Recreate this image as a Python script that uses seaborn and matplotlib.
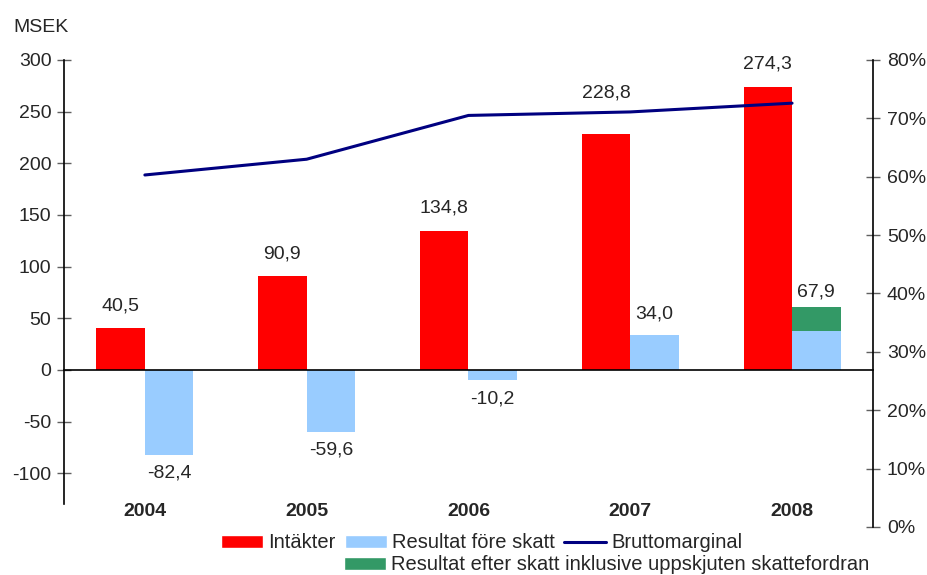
import numpy as np
import pandas as pd
import seaborn as sns
import matplotlib.pyplot as plt
from matplotlib.patches import Patch
from matplotlib.lines import Line2D

years = ["2004", "2005", "2006", "2007", "2008"]
intakter = [40.5, 90.9, 134.8, 228.8, 274.3]
resultat_fore = [-82.4, -59.6, -10.2, 34.0, 38.0]
# green part stacked on top of the light blue bar in 2008 (top of stack)
resultat_efter_total = [np.nan, np.nan, np.nan, np.nan, 61.0]
bruttomarginal = [0.603, 0.630, 0.705, 0.711, 0.726]

intakter_labels = ["40,5", "90,9", "134,8", "228,8", "274,3"]
resultat_labels = ["-82,4", "-59,6", "-10,2", "34,0", ""]
efter_labels = ["", "", "", "", "67,9"]

RED = "#FF0000"
BLUE = "#99CCFF"
GREEN = "#339966"
NAVY = "#000080"
FS = 14

sns.set_style("white")
plt.rcParams["font.family"] = ["Liberation Sans", "DejaVu Sans"]
plt.rcParams["font.size"] = FS
plt.rcParams["axes.unicode_minus"] = False

fig = plt.figure(figsize=(9.27, 5.75), dpi=100)
ax = fig.add_axes([0.069, 0.0835, 0.8727, 0.8122])

series = ["Intäkter", "Resultat före skatt"]
df = pd.DataFrame({
    "year": years * 2,
    "serie": [series[0]] * 5 + [series[1]] * 5,
    "value": intakter + resultat_fore,
})
df_green = pd.DataFrame({
    "year": years * 2,
    "serie": [series[0]] * 5 + [series[1]] * 5,
    "value": [0.0] * 5 + resultat_efter_total,
})

# green stack drawn first, light blue bars drawn over it
sns.barplot(data=df_green, x="year", y="value", hue="serie", hue_order=series,
            order=years, palette=[GREEN, GREEN], width=0.6, saturation=1,
            errorbar=None, legend=False, linewidth=0, ax=ax)
n_green = len(ax.containers)
sns.barplot(data=df, x="year", y="value", hue="serie", hue_order=series,
            order=years, palette=[RED, BLUE], width=0.6, saturation=1,
            errorbar=None, legend=False, linewidth=0, ax=ax)

green_bars = ax.containers[n_green - 1]
red_bars = ax.containers[n_green]
blue_bars = ax.containers[n_green + 1]


def put_labels(bars, labels, vals, up, down, extra=None):
    for i, (b, lab, v) in enumerate(zip(bars, labels, vals)):
        if not lab or np.isnan(v):
            continue
        off = up if v >= 0 else -down
        if extra and i in extra:
            off += extra[i]
        ax.annotate(lab, (b.get_x() + b.get_width() / 2, v), xytext=(0, off),
                    textcoords="offset points", ha="center", va="center",
                    fontsize=FS)


green_vals = [v for v in resultat_efter_total if not np.isnan(v)]
green_labs = [l for l, v in zip(efter_labels, resultat_efter_total) if not np.isnan(v)]
put_labels(red_bars, intakter_labels, intakter, 16, 0, extra={3: 13})
put_labels(blue_bars, resultat_labels, resultat_fore, 15, 13)
put_labels(green_bars, green_labs, green_vals, 11, 0)

ax.set_xlim(-0.5, len(years) - 0.5)
ax.set_ylim(-152, 300)
ax.set_yticks(np.arange(-100, 301, 50))
ax.set_xlabel("")
ax.set_ylabel("")

for s in ["top", "right"]:
    ax.spines[s].set_visible(False)
ax.spines["left"].set_bounds(-130, 300)
ax.spines["bottom"].set_position(("data", 0))
for s in ["left", "bottom"]:
    ax.spines[s].set_color("black")
    ax.spines[s].set_linewidth(1.2)

ax.set_xticks(np.arange(len(years)))
ax.set_xticklabels(years, fontweight="bold")
ax.set_xticks(np.arange(len(years) - 1) + 0.5, minor=True)
ax.tick_params(axis="x", which="major", length=0, pad=96, labelsize=FS)
ax.tick_params(axis="x", which="minor", direction="inout", length=8,
               width=1, color="#303030")
ax.tick_params(axis="y", direction="inout", length=10, width=1,
               color="#606060", pad=4, labelsize=FS)

ax2 = ax.twinx()
sns.lineplot(x=np.arange(len(years)), y=bruttomarginal, color=NAVY,
             linewidth=2.2, ax=ax2)
ax2.set_ylim(0, 0.8)
ticks = np.arange(0, 0.81, 0.1)
ax2.set_yticks(ticks)
ax2.set_yticklabels([f"{int(round(t * 100))}%" for t in ticks])
for s in ["top", "left", "bottom"]:
    ax2.spines[s].set_visible(False)
ax2.spines["right"].set_color("black")
ax2.spines["right"].set_linewidth(1.2)
ax2.tick_params(axis="y", direction="inout", length=10, width=1,
                color="#606060", pad=5, labelsize=FS)

fig.text(13 / 927, 1 - 27 / 575, "MSEK", fontsize=FS, va="center", ha="left")

leg_kw = dict(frameon=False, fontsize=14.5, handlelength=2.1,
              handleheight=0.65, handletextpad=0.25, borderpad=0,
              borderaxespad=0, loc="center left")
h1 = [Patch(facecolor=RED), Patch(facecolor=BLUE),
      Line2D([], [], color=NAVY, linewidth=2.2)]
fig.legend(h1, ["Intäkter", "Resultat före skatt", "Bruttomarginal"],
           bbox_to_anchor=(221 / 927, 1 - 543 / 575), ncol=3,
           columnspacing=0.45, **leg_kw)
fig.legend([Patch(facecolor=GREEN)],
           ["Resultat efter skatt inklusive uppskjuten skattefordran"],
           bbox_to_anchor=(344 / 927, 1 - 565 / 575), **leg_kw)

fig.savefig("out.png", dpi=100)
